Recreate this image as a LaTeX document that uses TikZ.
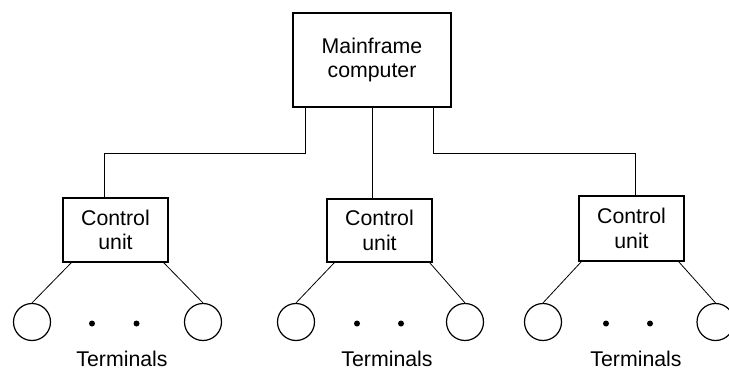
\documentclass[tikz,border=0pt]{standalone}
\usepackage{fontspec}
\setmainfont{Liberation Sans}
\begin{document}
\begin{tikzpicture}[x=1pt,y=-1pt,
  box/.style={draw,line width=1.3pt,rectangle,align=center,inner sep=0pt,
    font=\fontsize{21.3}{24.5}\selectfont},
  term/.style={draw,line width=1.2pt,circle,minimum size=37pt,inner sep=0pt},
  dotn/.style={fill,circle,minimum size=6pt,inner sep=0pt},
  lbl/.style={anchor=base,inner sep=0pt,font=\fontsize{21.3}{24.5}\selectfont},
  wire/.style={line width=0.8pt}]
\useasboundingbox (0,0) rectangle (729,369);
\node[box,minimum width=158pt,minimum height=94pt] (main) at (372,60) {Mainframe\\computer};
\node[box,minimum width=105pt,minimum height=64pt] (cu1) at (115.5,230) {Control\\unit};
\node[box,minimum width=105pt,minimum height=63pt] (cu2) at (379.5,230.5) {Control\\unit};
\node[box,minimum width=105pt,minimum height=65pt] (cu3) at (631.5,228.5) {Control\\unit};
% terminals
\node[term] (t1a) at (32,322) {};
\node[term] (t1b) at (203,322) {};
\node[term] (t2a) at (296,322) {};
\node[term] (t2b) at (465,322) {};
\node[term] (t3a) at (543,322) {};
\node[term] (t3b) at (715.5,322) {};
\node[dotn] (d1a) at (92,323.5) {};
\node[dotn] (d1b) at (136.5,323.5) {};
\node[dotn] (d2a) at (357,323.5) {};
\node[dotn] (d2b) at (401,323.5) {};
\node[dotn] (d3a) at (606,323.5) {};
\node[dotn] (d3b) at (650,323.5) {};
\node[lbl] (l1) at (122,366) {Terminals};
\node[lbl] (l2) at (387,366) {Terminals};
\node[lbl] (l3) at (636,366) {Terminals};
% wires
\draw[wire] ([xshift=13pt]main.south west) -- ++(0,46) -| ([xshift=-11.5pt]cu1.north);
\draw[wire] (main.south) -- ([xshift=-7.5pt]cu2.north);
\draw[wire] ([xshift=-18pt]main.south east) -- ++(0,46) -| ([xshift=3.5pt]cu3.north);
\draw[wire] ([xshift=9pt]cu1.south west) -- (t1a.north);
\draw[wire] ([xshift=-5pt]cu1.south east) -- (t1b.north);
\draw[wire] ([xshift=8pt]cu2.south west) -- (t2a.north);
\draw[wire] ([xshift=-3pt]cu2.south east) -- (t2b.north);
\draw[wire] ([xshift=3pt]cu3.south west) -- (t3a.north);
\draw[wire] ([xshift=-6pt]cu3.south east) -- (t3b.north);
\end{tikzpicture}
\end{document}
